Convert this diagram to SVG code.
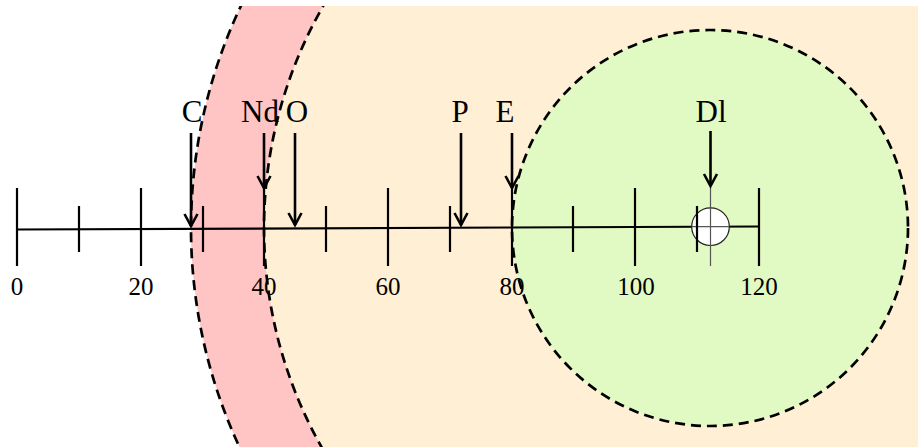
<svg xmlns="http://www.w3.org/2000/svg" width="918" height="447" viewBox="0 0 918 447">
<style>
.zone{stroke:#000;stroke-width:2.7;stroke-dasharray:10 6}
.ax{stroke:#000;stroke-width:2.2;fill:none}
.arr{stroke:#000;stroke-width:2.6;fill:none}
.lbl{font-family:"Liberation Serif","Times New Roman",serif;font-size:31px;text-anchor:middle;fill:#000}
.num{font-family:"Liberation Serif","Times New Roman",serif;font-size:25px;text-anchor:middle;fill:#000}
</style>
<defs>
<clipPath id="clip"><rect x="0" y="6" width="918" height="441"/></clipPath>
<marker id="ah" markerUnits="userSpaceOnUse" markerWidth="20" markerHeight="20" viewBox="-14 -10 16 20" refX="0" refY="0" orient="auto">
<path d="M-12,-6.5 L0,0 L-12,6.5" fill="none" stroke="#000" stroke-width="2.6"/>
</marker>
</defs>
<g id="zones" clip-path="url(#clip)">
<circle id="outer" class="zone" cx="710" cy="228" r="519" fill="#ffc4c4"/>
<circle id="middle" class="zone" cx="710" cy="228" r="446" fill="#fff0d5"/>
<circle id="inner" class="zone" cx="710" cy="228" r="198" fill="#e1f9c3"/>
</g>
<g id="axis">
<line class="ax" x1="17" y1="229.5" x2="759" y2="226.5"/>
<g class="ax">
<line x1="17" y1="188" x2="17" y2="266"/>
<line x1="141" y1="188" x2="141" y2="266"/>
<line x1="264" y1="188" x2="264" y2="266"/>
<line x1="388" y1="188" x2="388" y2="266"/>
<line x1="512" y1="188" x2="512" y2="266"/>
<line x1="635" y1="188" x2="635" y2="266"/>
<line x1="759" y1="188" x2="759" y2="266"/>
<line x1="79" y1="206" x2="79" y2="252"/>
<line x1="203" y1="206" x2="203" y2="252"/>
<line x1="326" y1="206" x2="326" y2="252"/>
<line x1="450" y1="206" x2="450" y2="252"/>
<line x1="573" y1="206" x2="573" y2="252"/>
</g>
<text class="num" x="17" y="295">0</text>
<text class="num" x="141" y="295">20</text>
<text class="num" x="264" y="295">40</text>
<text class="num" x="388" y="295">60</text>
<text class="num" x="512" y="295">80</text>
<text class="num" x="636" y="295">100</text>
<text class="num" x="759" y="295">120</text>
</g>
<g id="Dl-marker">
<circle cx="710.5" cy="226.7" r="18.8" fill="#fff" stroke="#222" stroke-width="1.2"/>
<line x1="692" y1="226.7" x2="729" y2="226.7" stroke="#555" stroke-width="1.2"/>
<line x1="710.5" y1="187" x2="710.5" y2="266" stroke="#555" stroke-width="1.2"/>
<line class="ax" x1="697" y1="206" x2="697" y2="252"/>
</g>
<g id="arrows">
<line class="arr" x1="191" y1="133" x2="191" y2="226" marker-end="url(#ah)"/>
<line class="arr" x1="264" y1="133" x2="264" y2="188" marker-end="url(#ah)"/>
<line class="arr" x1="295" y1="133" x2="295" y2="225" marker-end="url(#ah)"/>
<line class="arr" x1="461" y1="133" x2="461" y2="225" marker-end="url(#ah)"/>
<line class="arr" x1="512" y1="133" x2="512" y2="188" marker-end="url(#ah)"/>
<line class="arr" x1="710.5" y1="131" x2="710.5" y2="186" marker-end="url(#ah)"/>
</g>
<g id="labels">
<text id="C" class="lbl" x="192" y="122">C</text>
<text id="Nd" class="lbl" x="260" y="122">Nd</text>
<text id="O" class="lbl" x="297" y="122">O</text>
<text id="P" class="lbl" x="460" y="122">P</text>
<text id="E" class="lbl" x="505" y="122">E</text>
<text id="Dl" class="lbl" x="711" y="122">Dl</text>
</g>
</svg>
